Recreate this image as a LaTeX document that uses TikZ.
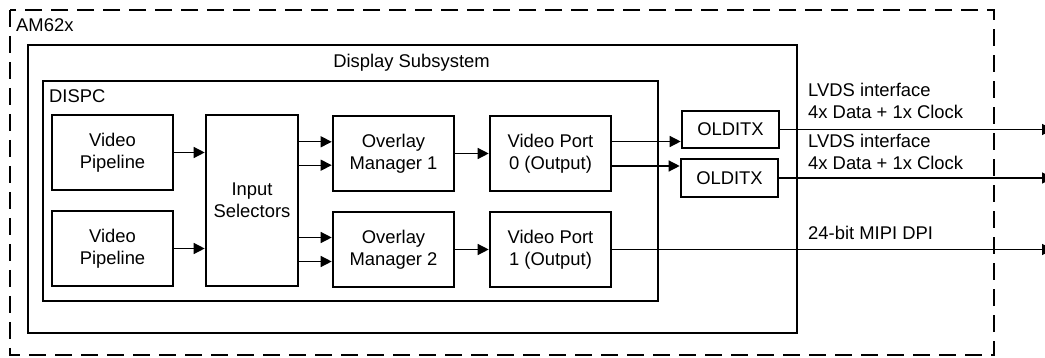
\documentclass[tikz,border=0pt]{standalone}
\usepackage{fontspec}
\setmainfont{Liberation Sans}
\usetikzlibrary{arrows.meta,calc}

\begin{document}
\begin{tikzpicture}[x=1pt,y=-1pt,
  every node/.style={font=\fontsize{18.4}{21.6}\selectfont, inner sep=0pt},
  blk/.style={draw, line width=2.6pt, align=center},
  arr/.style={line width=1.3pt, -{Triangle[length=11pt,width=11pt]}},
  frame/.style={draw, line width=2.6pt},
  label/.style={anchor=base west}]
\useasboundingbox (0,0) rectangle (1045,358);

% chip outline and subsystem frames
\draw[line width=2.8pt, dash pattern=on 17pt off 9pt] (10,10) rectangle (994,355);
\node[label] (am) at (16,31.7) {AM62x};
\draw[frame] (28,45) rectangle (797,333);
\node[anchor=base] (dss) at (411.5,67.3) {Display Subsystem};
\draw[frame] (43,81) rectangle (658,301);
\node[label] (dispc) at (49,103) {DISPC};

% processing blocks
\node[blk, minimum width=121pt, minimum height=75pt] (vpa) at (112.5,152.5) {Video\\Pipeline};
\node[blk, minimum width=121pt, minimum height=75pt] (vpb) at (112.5,248.5) {Video\\Pipeline};
\node[blk, minimum width=92pt, minimum height=171pt] (is) at (252,200.5) {Input\\Selectors};
\node[blk, minimum width=121pt, minimum height=75pt] (om1) at (393.5,153.5) {Overlay\\Manager 1};
\node[blk, minimum width=121pt, minimum height=75pt] (om2) at (393.5,249.5) {Overlay\\Manager 2};
\node[blk, minimum width=121pt, minimum height=75pt] (vp0) at (550.5,153.5) {Video Port\\0 (Output)};
\node[blk, minimum width=121pt, minimum height=75pt] (vp1) at (550.5,249.5) {Video Port\\1 (Output)};
\node[blk, minimum width=97pt, minimum height=37pt] (od1) at (730.5,129.5) {OLDITX};
\node[blk, minimum width=97pt, minimum height=38pt] (od2) at (729.5,178) {OLDITX};

% external pins (beyond the right edge)
\coordinate (o1) at (1053,129.5);
\coordinate (o2) at (1053,178);
\coordinate (o3) at (1053,249.5);

% connections
\draw[arr] (vpa.east) -- (vpa.east -| is.west);
\draw[arr] (vpb.east) -- (vpb.east -| is.west);
\draw[arr] ([yshift=11.7pt]om1.west -| is.east) -- ([yshift=11.7pt]om1.west);
\draw[arr] ([yshift=-11.7pt]om1.west -| is.east) -- ([yshift=-11.7pt]om1.west);
\draw[arr] ([yshift=12pt]om2.west -| is.east) -- ([yshift=12pt]om2.west);
\draw[arr] ([yshift=-12pt]om2.west -| is.east) -- ([yshift=-12pt]om2.west);
\draw[arr] (om1.east) -- (om1.east -| vp0.west);
\draw[arr] (om2.east) -- (om2.east -| vp1.west);
\draw[arr] ([yshift=12pt]vp0.east) -- ([yshift=12pt]vp0.east -| od1.west);
\draw[arr] ([yshift=-12.5pt]vp0.east) -- ([yshift=-12.5pt]vp0.east -| od2.west);
\draw[arr] (od1.east) -- (o1);
\draw[arr] (od2.east) -- (o2);
\draw[arr] (vp1.east) -- (o3);

% interface labels
\node[label] (l1a) at (808,96.7) {LVDS interface};
\node[label] (l1b) at (808,119) {4x Data + 1x Clock};
\node[label] (l2a) at (808,147.7) {LVDS interface};
\node[label] (l2b) at (808,170) {4x Data + 1x Clock};
\node[label] (l3) at (808,240) {24-bit MIPI DPI};
\end{tikzpicture}
\end{document}
